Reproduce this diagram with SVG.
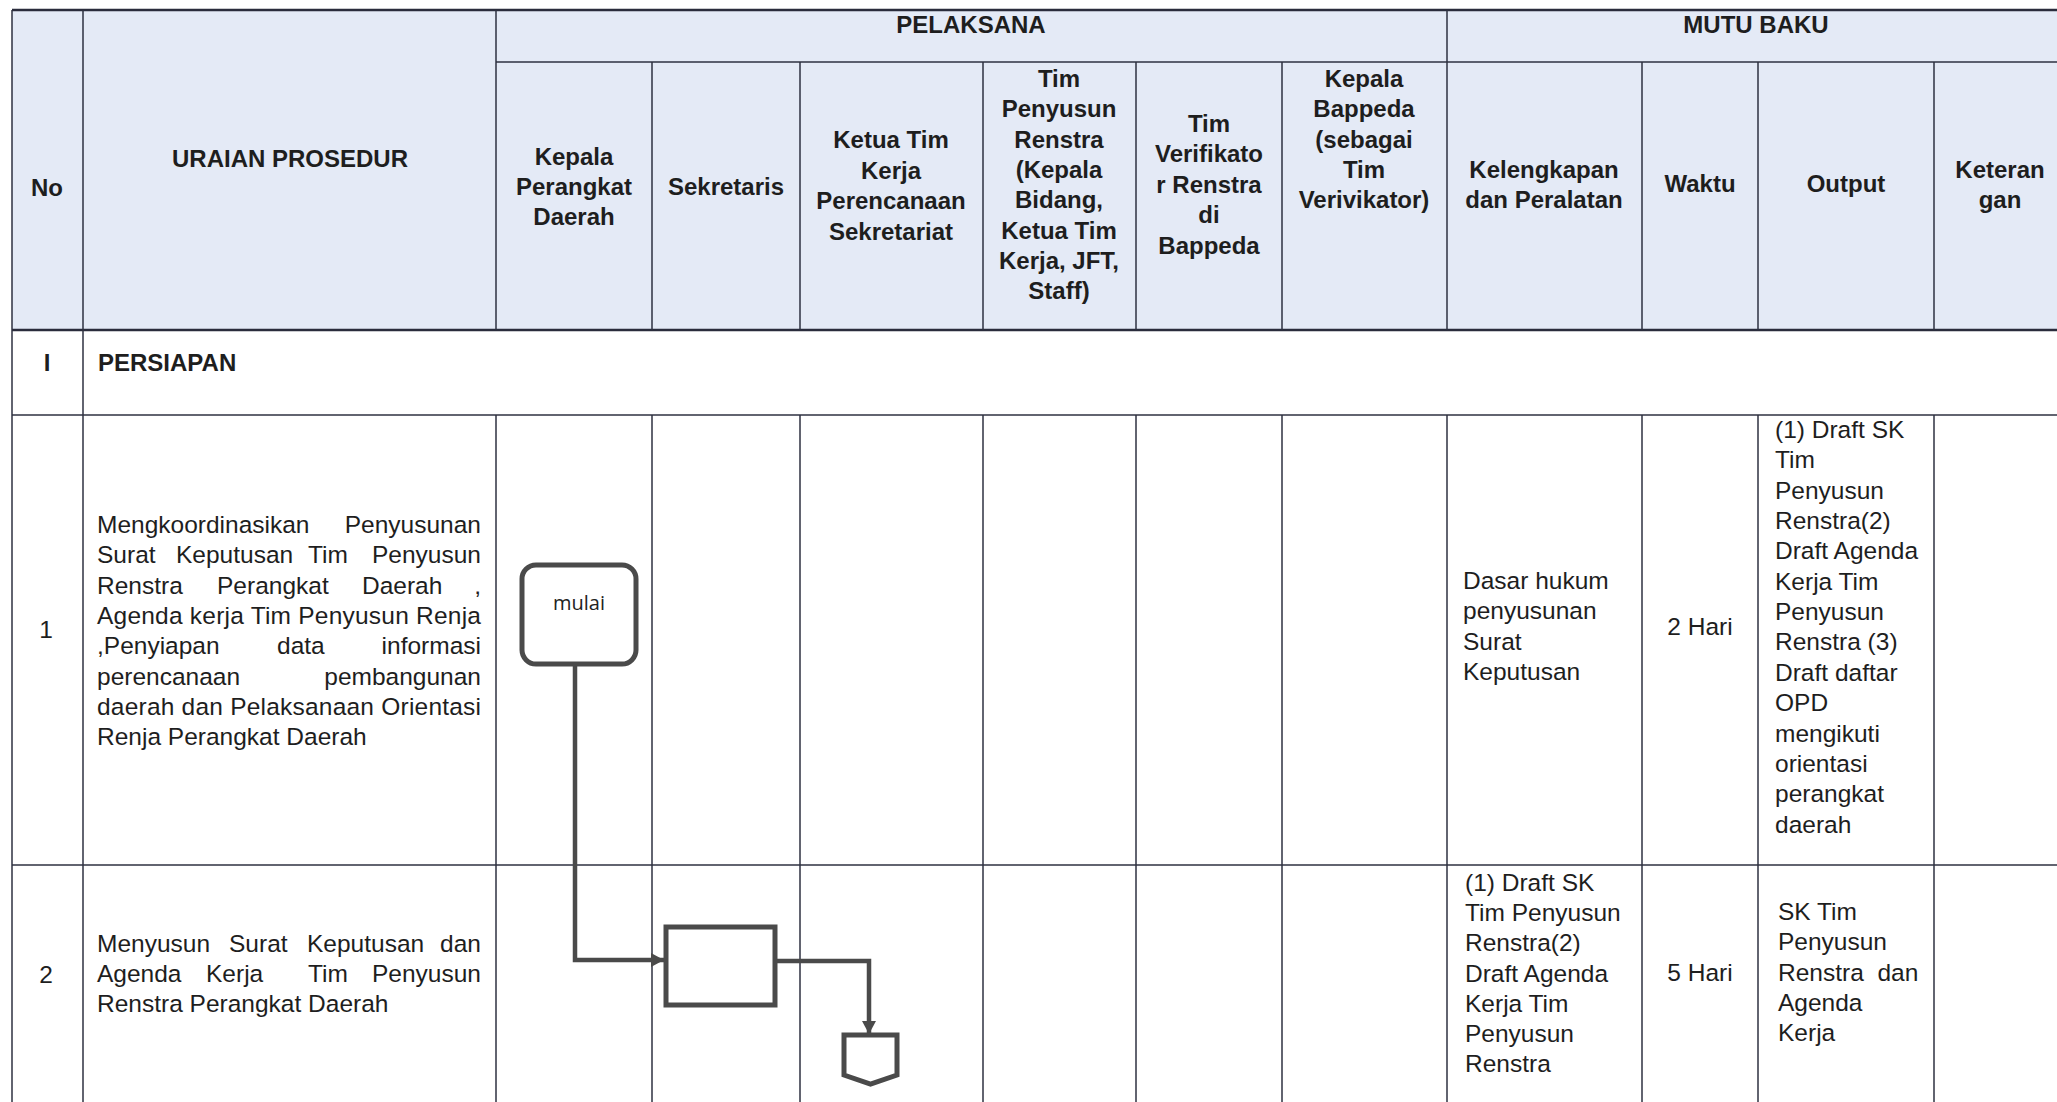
<svg xmlns="http://www.w3.org/2000/svg" width="2057" height="1102" viewBox="0 0 2057 1102">
  <style>
    .hd { font-family: "Liberation Sans", Arial, sans-serif; font-size: 24px; font-weight: bold; fill: #1e1e1e; text-anchor: middle; }
    .hl { font-family: "Liberation Sans", Arial, sans-serif; font-size: 24px; font-weight: bold; fill: #1e1e1e; }
    .tx { font-family: "Liberation Sans", Arial, sans-serif; font-size: 24.5px; fill: #1e1e1e; }
    .txc { font-family: "Liberation Sans", Arial, sans-serif; font-size: 24.5px; fill: #1e1e1e; text-anchor: middle; }
    .txe { font-family: "Liberation Sans", Arial, sans-serif; font-size: 24.5px; fill: #1e1e1e; text-anchor: end; }
    .grid { stroke: #2e3040; stroke-width: 1.5; fill: none; }
    .gridb { stroke: #2a2c3c; stroke-width: 2.6; fill: none; }
    .shape { fill: #ffffff; stroke: #4a4a4a; stroke-width: 5; }
    .flow { fill: none; stroke: #4a4a4a; stroke-width: 4.5; }
    .lbl { font-family: "Open Sans", "Noto Sans", sans-serif; font-size: 20px; fill: #222; text-anchor: middle; }
  </style>
  <defs>
    <marker id="arrow" markerUnits="userSpaceOnUse" markerWidth="16" markerHeight="16" viewBox="0 0 16 16" refX="14" refY="8" orient="auto">
      <path d="M1,1 L14,8 L1,15 Z" fill="#4a4a4a"/>
    </marker>
  </defs>

  <!-- page background -->
  <rect x="0" y="0" width="2057" height="1102" fill="#ffffff"/>
  <!-- header band -->
  <rect x="12" y="10" width="2054" height="320" fill="#e4eaf6"/>

  <!-- table grid -->
  <g id="table-grid">
    <line class="gridb" x1="12" y1="10" x2="2066" y2="10"/>
    <line class="grid" x1="496" y1="62" x2="2066" y2="62"/>
    <line class="gridb" x1="12" y1="330" x2="2066" y2="330"/>
    <line class="grid" x1="12" y1="415" x2="2066" y2="415"/>
    <line class="grid" x1="12" y1="865" x2="2066" y2="865"/>
    <!-- full-height verticals -->
    <line class="grid" x1="12" y1="10" x2="12" y2="1102"/>
    <line class="grid" x1="83" y1="10" x2="83" y2="1102"/>
    <line class="grid" x1="496" y1="10" x2="496" y2="330"/>
    <line class="grid" x1="1447" y1="10" x2="1447" y2="330"/>
    <line class="grid" x1="2066" y1="10" x2="2066" y2="1102"/>
    <!-- column verticals in the header (below the group row) -->
    <line class="grid" x1="652" y1="62" x2="652" y2="330"/>
    <line class="grid" x1="800" y1="62" x2="800" y2="330"/>
    <line class="grid" x1="983" y1="62" x2="983" y2="330"/>
    <line class="grid" x1="1136" y1="62" x2="1136" y2="330"/>
    <line class="grid" x1="1282" y1="62" x2="1282" y2="330"/>
    <line class="grid" x1="1642" y1="62" x2="1642" y2="330"/>
    <line class="grid" x1="1758" y1="62" x2="1758" y2="330"/>
    <line class="grid" x1="1934" y1="62" x2="1934" y2="330"/>
    <!-- column verticals in the step rows -->
    <line class="grid" x1="496" y1="415" x2="496" y2="1102"/>
    <line class="grid" x1="652" y1="415" x2="652" y2="1102"/>
    <line class="grid" x1="800" y1="415" x2="800" y2="1102"/>
    <line class="grid" x1="983" y1="415" x2="983" y2="1102"/>
    <line class="grid" x1="1136" y1="415" x2="1136" y2="1102"/>
    <line class="grid" x1="1282" y1="415" x2="1282" y2="1102"/>
    <line class="grid" x1="1447" y1="415" x2="1447" y2="1102"/>
    <line class="grid" x1="1642" y1="415" x2="1642" y2="1102"/>
    <line class="grid" x1="1758" y1="415" x2="1758" y2="1102"/>
    <line class="grid" x1="1934" y1="415" x2="1934" y2="1102"/>
  </g>

  <!-- header labels -->
  <g id="header-labels">
    <text class="hd" x="971" y="33">PELAKSANA</text>
    <text class="hd" x="1756" y="33">MUTU BAKU</text>
    <text class="hd" x="47" y="196">No</text>
    <text class="hd" x="290" y="167">URAIAN PROSEDUR</text>
    <text class="hd" x="574"><tspan x="574" y="165">Kepala</tspan><tspan x="574" y="195">Perangkat</tspan><tspan x="574" y="225">Daerah</tspan></text>
    <text class="hd" x="726" y="195">Sekretaris</text>
    <text class="hd"><tspan x="891" y="148">Ketua Tim</tspan><tspan x="891" y="179">Kerja</tspan><tspan x="891" y="209">Perencanaan</tspan><tspan x="891" y="240">Sekretariat</tspan></text>
    <text class="hd"><tspan x="1059" y="87">Tim</tspan><tspan x="1059" y="117">Penyusun</tspan><tspan x="1059" y="148">Renstra</tspan><tspan x="1059" y="178">(Kepala</tspan><tspan x="1059" y="208">Bidang,</tspan><tspan x="1059" y="239">Ketua Tim</tspan><tspan x="1059" y="269">Kerja, JFT,</tspan><tspan x="1059" y="299">Staff)</tspan></text>
    <text class="hd"><tspan x="1209" y="132">Tim</tspan><tspan x="1209" y="162">Verifikato</tspan><tspan x="1209" y="193">r Renstra</tspan><tspan x="1209" y="223">di</tspan><tspan x="1209" y="254">Bappeda</tspan></text>
    <text class="hd"><tspan x="1364" y="87">Kepala</tspan><tspan x="1364" y="117">Bappeda</tspan><tspan x="1364" y="148">(sebagai</tspan><tspan x="1364" y="178">Tim</tspan><tspan x="1364" y="208">Verivikator)</tspan></text>
    <text class="hd"><tspan x="1544" y="178">Kelengkapan</tspan><tspan x="1544" y="208">dan Peralatan</tspan></text>
    <text class="hd" x="1700" y="192">Waktu</text>
    <text class="hd" x="1846" y="192">Output</text>
    <text class="hd"><tspan x="2000" y="178">Keteran</tspan><tspan x="2000" y="208">gan</tspan></text>
  </g>

  <!-- section row -->
  <g id="section-persiapan">
    <text class="hd" x="47" y="371">I</text>
    <text class="hl" x="98" y="371">PERSIAPAN</text>
  </g>

  <!-- step 1 -->
  <g id="step-1-text">
    <text class="txc" x="46" y="638">1</text>
    <text class="tx" x="97" y="533">Mengkoordinasikan</text>
    <text class="txe" x="481" y="533">Penyusunan</text>
    <text class="tx" x="97" y="563">Surat</text>
    <text class="tx" x="176" y="563">Keputusan</text>
    <text class="tx" x="308" y="563">Tim</text>
    <text class="txe" x="481" y="563">Penyusun</text>
    <text class="tx" x="97" y="594">Renstra</text>
    <text class="tx" x="217" y="594">Perangkat</text>
    <text class="tx" x="362" y="594">Daerah</text>
    <text class="txe" x="481" y="594">,</text>
    <text class="tx" x="97" y="624" textLength="384" lengthAdjust="spacing">Agenda kerja Tim Penyusun Renja</text>
    <text class="tx" x="97" y="654">,Penyiapan</text>
    <text class="tx" x="277" y="654">data</text>
    <text class="txe" x="481" y="654">informasi</text>
    <text class="tx" x="97" y="685">perencanaan</text>
    <text class="txe" x="481" y="685">pembangunan</text>
    <text class="tx" x="97" y="715" textLength="384" lengthAdjust="spacing">daerah dan Pelaksanaan Orientasi</text>
    <text class="tx" x="97" y="745">Renja Perangkat Daerah</text>

    <text class="tx"><tspan x="1463" y="589">Dasar hukum</tspan><tspan x="1463" y="619">penyusunan</tspan><tspan x="1463" y="650">Surat</tspan><tspan x="1463" y="680">Keputusan</tspan></text>
    <text class="txc" x="1700" y="635">2 Hari</text>
    <text class="tx"><tspan x="1775" y="438">(1) Draft SK</tspan><tspan x="1775" y="468">Tim</tspan><tspan x="1775" y="499">Penyusun</tspan><tspan x="1775" y="529">Renstra(2)</tspan><tspan x="1775" y="559">Draft Agenda</tspan><tspan x="1775" y="590">Kerja Tim</tspan><tspan x="1775" y="620">Penyusun</tspan><tspan x="1775" y="650">Renstra (3)</tspan><tspan x="1775" y="681">Draft daftar</tspan><tspan x="1775" y="711">OPD</tspan><tspan x="1775" y="742">mengikuti</tspan><tspan x="1775" y="772">orientasi</tspan><tspan x="1775" y="802">perangkat</tspan><tspan x="1775" y="833">daerah</tspan></text>
  </g>

  <!-- step 2 -->
  <g id="step-2-text">
    <text class="txc" x="46" y="983">2</text>
    <text class="tx" x="97" y="952">Menyusun</text>
    <text class="tx" x="229" y="952">Surat</text>
    <text class="tx" x="307" y="952">Keputusan</text>
    <text class="txe" x="481" y="952">dan</text>
    <text class="tx" x="97" y="982">Agenda</text>
    <text class="tx" x="206" y="982">Kerja</text>
    <text class="tx" x="308" y="982">Tim</text>
    <text class="txe" x="481" y="982">Penyusun</text>
    <text class="tx" x="97" y="1012">Renstra Perangkat Daerah</text>

    <text class="tx"><tspan x="1465" y="891">(1) Draft SK</tspan><tspan x="1465" y="921">Tim Penyusun</tspan><tspan x="1465" y="951">Renstra(2)</tspan><tspan x="1465" y="982">Draft Agenda</tspan><tspan x="1465" y="1012">Kerja Tim</tspan><tspan x="1465" y="1042">Penyusun</tspan><tspan x="1465" y="1072">Renstra</tspan></text>
    <text class="txc" x="1700" y="981">5 Hari</text>
    <text class="tx" style="white-space:pre"><tspan x="1778" y="920">SK Tim</tspan><tspan x="1778" y="950">Penyusun</tspan><tspan x="1778" y="981">Renstra  dan</tspan><tspan x="1778" y="1011">Agenda</tspan><tspan x="1778" y="1041">Kerja</tspan></text>
  </g>

  <!-- connectors -->
  <g id="connectors">
    <path class="flow" d="M575,664 V960 H664" marker-end="url(#arrow)"/>
    <path class="flow" d="M775,961 H869 V1034" marker-end="url(#arrow)"/>
  </g>

  <!-- flow nodes -->
  <g id="node-mulai">
    <rect class="shape" x="522" y="565" width="114" height="99" rx="14" ry="14"/>
    <text class="lbl" x="579" y="610">mulai</text>
  </g>
  <g id="node-proses">
    <rect class="shape" x="666" y="927" width="109" height="78"/>
  </g>
  <g id="node-offpage">
    <path class="shape" d="M844,1035 H897 V1075 L870.5,1084 L844,1075 Z"/>
  </g>
</svg>
